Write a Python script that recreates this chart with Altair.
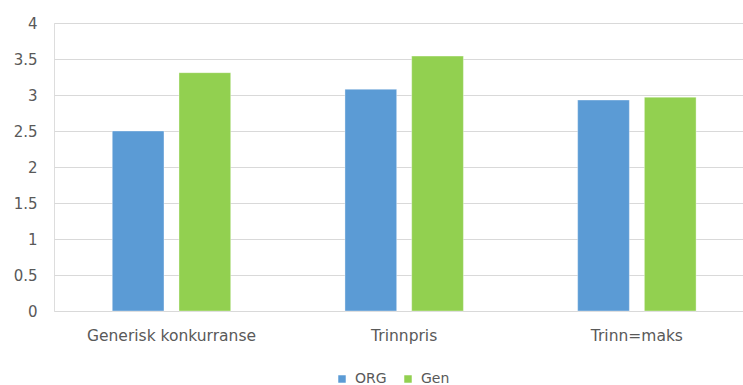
import altair as alt
import pandas as pd

# Chart data
categories = ["Generisk konkurranse", "Trinnpris", "Trinn=maks"]
series = ["ORG", "Gen"]
org_values = [2.5, 3.08, 2.93]
gen_values = [3.31, 3.54, 2.97]
y_ticks = [0, 0.5, 1, 1.5, 2, 2.5, 3, 3.5, 4]
colors = ["#5B9BD5", "#92D050"]

rows = []
for cat, o, g in zip(categories, org_values, gen_values):
    rows.append({"kategori": cat, "serie": "ORG", "verdi": o})
    rows.append({"kategori": cat, "serie": "Gen", "verdi": g})
df = pd.DataFrame(rows)

FONT = "DejaVu Sans"
TEXT = "#595959"

bars = alt.Chart(df).mark_bar(stroke="white", strokeWidth=0.6, strokeOpacity=0.6).encode(
    x=alt.X(
        "kategori:N",
        sort=categories,
        scale=alt.Scale(paddingInner=0.491, paddingOuter=0.226, align=0.554),
        axis=alt.Axis(
            title=None,
            labelAngle=0,
            ticks=False,
            domain=False,
            grid=False,
            labelPadding=17,
            labelFontSize=15.5,
            labelColor=TEXT,
            labelFont=FONT,
        ),
    ),
    xOffset=alt.XOffset(
        "serie:N",
        sort=series,
        scale=alt.Scale(paddingInner=0.225, paddingOuter=0),
    ),
    y=alt.Y(
        "verdi:Q",
        scale=alt.Scale(domain=[0, 4], nice=False),
        axis=alt.Axis(
            title=None,
            values=y_ticks,
            format="~g",
            ticks=False,
            domain=False,
            gridColor="#D9D9D9",
            gridWidth=1,
            labelPadding=17,
            labelFontSize=15,
            labelColor=TEXT,
            labelFont=FONT,
        ),
    ),
    color=alt.Color(
        "serie:N",
        sort=series,
        scale=alt.Scale(domain=series, range=colors),
        legend=alt.Legend(
            title=None,
            orient="none",
            direction="horizontal",
            legendX=281,
            legendY=349,
            symbolType="square",
            symbolSize=56,
            symbolStrokeWidth=0,
            labelFontSize=14,
            labelColor=TEXT,
            labelFont=FONT,
            columnPadding=14,
            labelOffset=6,
        ),
    ),
)

chart = bars.properties(
    width=689,
    height=288,
    autosize=alt.AutoSizeParams(type="none"),
    padding={"left": 54, "top": 23, "right": 0, "bottom": 74},
).configure_view(stroke=None).configure(background="white")

chart.save("out.html", embed_options={"renderer": "svg", "actions": False})
